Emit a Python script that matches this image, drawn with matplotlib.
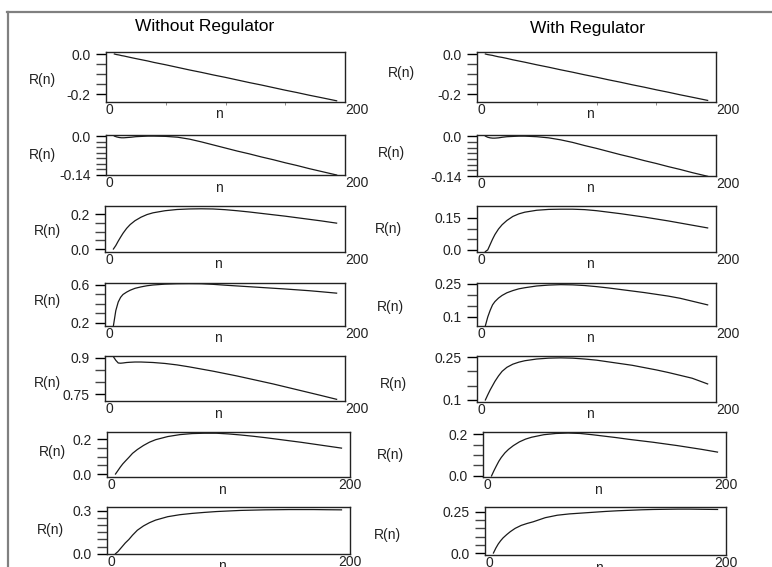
import matplotlib.pyplot as plt
from matplotlib.lines import Line2D

plt.rcParams["font.family"] = ["Liberation Sans", "DejaVu Sans"]

# sample positions n
n = [7, 9, 11, 13, 15, 18, 21, 25, 30, 35, 40, 50, 60, 70, 80, 90,
     100, 110, 120, 130, 140, 150, 160, 170, 180, 193]

# Without Regulator (left column, top to bottom)
wo_1 = [0.0, -0.003, -0.005, -0.008, -0.010, -0.014, -0.018, -0.023, -0.029, -0.035,
        -0.042, -0.054, -0.067, -0.080, -0.092, -0.105, -0.117, -0.130, -0.143, -0.155,
        -0.168, -0.181, -0.193, -0.206, -0.218, -0.234]
wo_2 = [0.0, -0.003, -0.005, -0.006, -0.006, -0.005, -0.004, -0.002, -0.001, 0.0,
        0.0, -0.001, -0.004, -0.011, -0.021, -0.032, -0.043, -0.054, -0.064, -0.075,
        -0.085, -0.096, -0.106, -0.117, -0.127, -0.140]
wo_3 = [0.0, 0.020, 0.045, 0.068, 0.090, 0.118, 0.140, 0.162, 0.182, 0.197,
        0.207, 0.219, 0.226, 0.229, 0.230, 0.229, 0.225, 0.219, 0.212, 0.204,
        0.196, 0.188, 0.179, 0.170, 0.161, 0.148]
wo_4 = [0.17, 0.33, 0.42, 0.47, 0.50, 0.525, 0.545, 0.565, 0.58, 0.592,
        0.600, 0.609, 0.613, 0.614, 0.613, 0.607, 0.598, 0.590, 0.582, 0.574,
        0.566, 0.558, 0.549, 0.540, 0.529, 0.514]
wo_5 = [0.905, 0.890, 0.879, 0.878, 0.879, 0.881, 0.882, 0.883, 0.883, 0.882,
        0.881, 0.877, 0.871, 0.863, 0.854, 0.845, 0.835, 0.825, 0.814, 0.803,
        0.792, 0.780, 0.768, 0.756, 0.744, 0.728]
wo_6 = [0.0, 0.020, 0.040, 0.058, 0.073, 0.095, 0.118, 0.140, 0.163, 0.182,
        0.196, 0.214, 0.225, 0.231, 0.233, 0.233, 0.229, 0.223, 0.216, 0.208,
        0.199, 0.190, 0.181, 0.171, 0.161, 0.148]
wo_7 = [0.0, 0.015, 0.035, 0.055, 0.075, 0.100, 0.130, 0.165, 0.195, 0.218,
        0.236, 0.260, 0.274, 0.283, 0.290, 0.296, 0.300, 0.304, 0.306, 0.308,
        0.309, 0.310, 0.310, 0.310, 0.309, 0.308]

# With Regulator (right column, top to bottom)
w_1 = [0.0, -0.003, -0.005, -0.007, -0.010, -0.014, -0.017, -0.022, -0.029, -0.035,
       -0.041, -0.054, -0.066, -0.079, -0.091, -0.104, -0.116, -0.129, -0.141, -0.154,
       -0.166, -0.179, -0.191, -0.204, -0.216, -0.232]
w_2 = [0.0, -0.004, -0.006, -0.007, -0.007, -0.006, -0.004, -0.002, -0.001, 0.0,
       0.0, -0.002, -0.006, -0.013, -0.022, -0.033, -0.043, -0.054, -0.065, -0.075,
       -0.086, -0.096, -0.107, -0.117, -0.128, -0.141]
w_3 = [-0.008, 0.0, 0.025, 0.050, 0.072, 0.098, 0.118, 0.138, 0.157, 0.169,
       0.177, 0.186, 0.190, 0.191, 0.191, 0.189, 0.184, 0.177, 0.170, 0.162,
       0.154, 0.145, 0.136, 0.126, 0.116, 0.103]
w_4 = [0.060, 0.100, 0.130, 0.155, 0.170, 0.186, 0.198, 0.210, 0.220, 0.228,
       0.233, 0.241, 0.245, 0.247, 0.246, 0.243, 0.238, 0.232, 0.225, 0.218,
       0.211, 0.203, 0.195, 0.185, 0.172, 0.155]
w_5 = [0.100, 0.118, 0.135, 0.150, 0.165, 0.184, 0.200, 0.214, 0.225, 0.232,
       0.237, 0.243, 0.246, 0.247, 0.246, 0.243, 0.239, 0.233, 0.227, 0.221,
       0.213, 0.205, 0.196, 0.186, 0.176, 0.156]
w_6 = [0.0, 0.025, 0.048, 0.070, 0.088, 0.110, 0.127, 0.145, 0.163, 0.176,
       0.185, 0.197, 0.203, 0.205, 0.203, 0.197, 0.190, 0.183, 0.175, 0.168,
       0.161, 0.153, 0.145, 0.136, 0.127, 0.114]
w_7 = [0.0, 0.030, 0.055, 0.075, 0.092, 0.112, 0.130, 0.150, 0.168, 0.180,
       0.190, 0.215, 0.230, 0.238, 0.243, 0.248, 0.253, 0.257, 0.260, 0.263,
       0.265, 0.266, 0.267, 0.267, 0.266, 0.265]

col_titles = ["Without Regulator", "With Regulator"]

# y axis setup per panel: ylim, labelled ticks, tick labels, unlabelled ticks
wo_axis = [
    ((-0.24, 0.01), [-0.2, 0.0], ["-0.2", "0.0"], [-0.15, -0.1, -0.05]),
    ((-0.14, 0.004), [-0.14, 0.0], ["-0.14", "0.0"], [-0.12, -0.1, -0.08, -0.06, -0.04, -0.02]),
    ((-0.017, 0.246), [0.0, 0.2], ["0.0", "0.2"], [0.05, 0.1, 0.15]),
    ((0.168, 0.621), [0.2, 0.6], ["0.2", "0.6"], [0.3, 0.4, 0.5]),
    ((0.721, 0.908), [0.75, 0.9], ["0.75", "0.9"], [0.8, 0.85]),
    ((-0.017, 0.24), [0.0, 0.2], ["0.0", "0.2"], [0.05, 0.1, 0.15]),
    ((-0.002, 0.328), [0.0, 0.3], ["0.0", "0.3"], [0.05, 0.1, 0.15, 0.2, 0.25]),
]
w_axis = [
    ((-0.24, 0.01), [-0.2, 0.0], ["-0.2", "0.0"], [-0.15, -0.1, -0.05]),
    ((-0.14, 0.004), [-0.14, 0.0], ["-0.14", "0.0"], [-0.12, -0.1, -0.08, -0.06, -0.04, -0.02]),
    ((-0.01, 0.206), [0.0, 0.15], ["0.0", "0.15"], [0.05, 0.1]),
    ((0.059, 0.2545), [0.1, 0.25], ["0.1", "0.25"], [0.15, 0.2]),
    ((0.093, 0.2535), [0.1, 0.25], ["0.1", "0.25"], [0.15, 0.2]),
    ((-0.005, 0.21), [0.0, 0.2], ["0.0", "0.2"], [0.05, 0.1, 0.15]),
    ((-0.012, 0.28), [0.0, 0.25], ["0.0", "0.25"], [0.05, 0.1, 0.15, 0.2]),
]

# layout in pixels: axes boxes (left, top, right, bottom) and R(n) label centres
W, H = 772, 567
wo_boxes = [(106, 52, 345, 102), (106, 135, 345, 175), (105, 206, 345, 252),
            (105, 283, 345, 326), (105, 356, 345, 401), (107, 432, 350, 477),
            (107, 507, 350, 554)]
w_boxes = [(477, 52, 716, 102), (477, 135, 716, 176), (477, 206, 716, 252),
           (477, 283, 716, 326), (477, 356, 716, 402), (483, 432, 726, 477),
           (485, 507, 726, 555)]
wo_ylab = [(42, 80), (42, 155), (47, 231), (47, 301), (47, 383), (52, 452), (50, 530)]
w_ylab = [(401, 73), (391, 153), (388, 229), (390, 307), (393, 384), (390, 455), (387, 535)]

fig = plt.figure(figsize=(W / 100, H / 100), dpi=100)

columns = [
    ([wo_1, wo_2, wo_3, wo_4, wo_5, wo_6, wo_7], wo_axis, wo_boxes, wo_ylab),
    ([w_1, w_2, w_3, w_4, w_5, w_6, w_7], w_axis, w_boxes, w_ylab),
]

for series, axis_cfg, boxes, ylabs in columns:
    for i in range(7):
        l, t, r, b = boxes[i]
        ax = fig.add_axes([l / W, 1 - b / H, (r - l) / W, (b - t) / H])
        ax.plot(n, series[i], color="#1a1a1a", lw=0.9)

        ylim, yt, ytl, yminor = axis_cfg[i]
        ax.set_xlim(0, 200)
        ax.set_ylim(*ylim)
        ax.set_yticks(yt)
        ax.set_yticklabels(ytl)
        ax.set_yticks(yminor, minor=True)
        ax.tick_params(axis="y", which="major", direction="out", length=7.5,
                       width=1.0, pad=3.5, labelsize=10, labelcolor="#222222")
        ax.tick_params(axis="y", which="minor", direction="out", length=7,
                       width=1.0, color="#444444")

        ax.set_xticks([0, 200])
        ax.set_xticklabels(["0", "200"])
        ax.tick_params(axis="x", which="major", length=0, pad=1,
                       labelsize=10, labelcolor="#222222")
        if i == 0:
            ax.set_xticks([50, 100, 150], minor=True)
            ax.tick_params(axis="x", which="minor", direction="out", length=2,
                           color="#777777")
        xl = ax.get_xticklabels()
        xl[0].set_ha("left")
        # lower two rows have the end label centred on the frame edge
        xl[1].set_ha("center" if i >= 5 else "left")

        ax.annotate("n", xy=(0.5, 0), xycoords="axes fraction",
                    xytext=(-5, -9), textcoords="offset points",
                    ha="center", va="center", fontsize=10, color="#222222")

        for sp in ax.spines.values():
            sp.set_linewidth(1.0)
            sp.set_color("#222222")

        lx, ly = ylabs[i]
        fig.text(lx / W, 1 - ly / H, "R(n)", ha="center", va="center",
                 fontsize=10, color="#222222")

fig.text(205 / W, 1 - 26 / H, col_titles[0], ha="center", va="center", fontsize=12.5)
fig.text(587 / W, 1 - 28 / H, col_titles[1], ha="center", va="center", fontsize=12.5)

# outer frame (top and left edges only, as in the scan)
fig.add_artist(Line2D([7 / W, 1], [1 - 12 / H, 1 - 12 / H], color="#808080", lw=1.6))
fig.add_artist(Line2D([7.5 / W, 7.5 / W], [1 - 12 / H, 0], color="#808080", lw=1.6))

fig.savefig("out.png", dpi=100)
